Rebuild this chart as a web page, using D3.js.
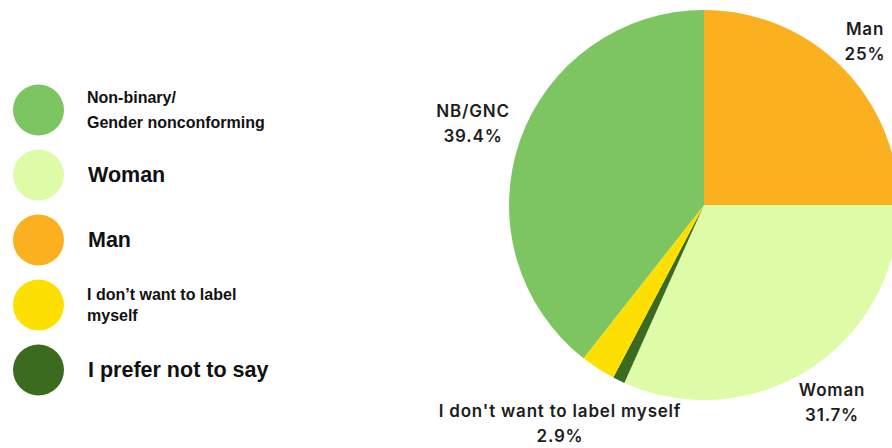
<!DOCTYPE html>
<html>
<head>
<meta charset="utf-8">
<script src="https://cdn.jsdelivr.net/npm/d3@7"></script>
<style>
  html, body { margin: 0; padding: 0; background: #ffffff; }
  svg { display: block; }
</style>
</head>
<body>
<svg id="chart" width="892" height="448"></svg>
<script>
// Slices in clockwise order from 12 o'clock
const categories = ["Man", "Woman", "I prefer not to say", "I don't want to label myself", "NB/GNC"];
const shares = [25, 31.7, 1.0, 2.9, 39.4];
const sliceColors = ["#fbb01f", "#defca8", "#3b6b1e", "#fde002", "#7dc561"];

// Legend entries (top to bottom)
const legendLines = [
  ["Non-binary/", "Gender nonconforming"],
  ["Woman"],
  ["Man"],
  ["I don\u2019t want to label", "myself"],
  ["I prefer not to say"]
];
const legendColors = ["#7dc561", "#defca8", "#fbb01f", "#fde002", "#3b6b1e"];
const legendSizes = [16, 21.5, 21.5, 16, 21.5];

// Slice labels
const labelText = [
  ["Man", "25%"],
  ["Woman", "31.7%"],
  null,
  ["I don't want to label myself", "2.9%"],
  ["NB/GNC", "39.4%"]
];

const svg = d3.select("#chart");
const cx = 704, cy = 205, R = 195;

const pie = d3.pie().sort(null).value(d => d)(shares);
const arc = d3.arc().innerRadius(0).outerRadius(R);

const g = svg.append("g").attr("transform", `translate(${cx},${cy})`);
g.selectAll("path")
  .data(pie)
  .join("path")
  .attr("d", arc)
  .attr("fill", (d, i) => sliceColors[i]);

// Slice labels placed outside the pie
const labelPos = [
  { x: 865, y: 35 },
  { x: 832, y: 396 },
  null,
  { x: 560, y: 417 },
  { x: 473, y: 117 }
];
labelText.forEach((lines, i) => {
  if (!lines) return;
  const t = svg.append("text")
    .attr("text-anchor", "middle")
    .attr("font-family", "Inter, 'Noto Sans', sans-serif")
    .attr("font-weight", 600)
    .attr("font-size", 17)
    .attr("letter-spacing", 0.8)
    .attr("fill", "#1d1d1d");
  lines.forEach((s, k) => {
    t.append("tspan").attr("x", labelPos[i].x).attr("y", labelPos[i].y + k * 25).text(s);
  });
});

// Legend
const legendY = d3.scaleLinear().domain([0, 4]).range([110, 370]);
const lineOffsets = { 0: [-7, 18], 3: [-5, 16] };
const lg = svg.append("g");
legendLines.forEach((lines, i) => {
  const y = legendY(i);
  lg.append("circle")
    .attr("cx", 38.5).attr("cy", y).attr("r", 25.5)
    .attr("fill", legendColors[i]);
  const fs = legendSizes[i];
  const t = lg.append("text")
    .attr("font-family", "'Liberation Sans', Arial, sans-serif")
    .attr("font-weight", "bold")
    .attr("font-size", fs)
    .attr("fill", "#111111");
  if (lines.length === 1) {
    t.append("tspan").attr("x", 88).attr("y", y + fs * 0.33).text(lines[0]);
  } else {
    lines.forEach((s, k) => {
      t.append("tspan").attr("x", 87).attr("y", y + lineOffsets[i][k]).text(s);
    });
  }
});
</script>
</body>
</html>
